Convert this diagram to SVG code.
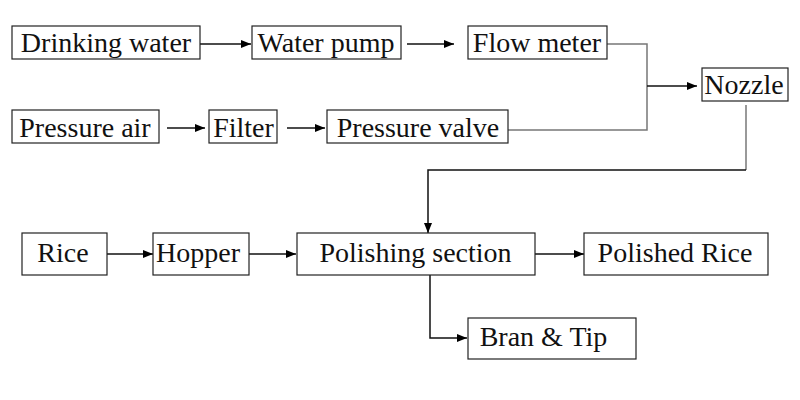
<svg xmlns="http://www.w3.org/2000/svg" width="800" height="400" viewBox="0 0 800 400">
<defs>
<marker id="ah" viewBox="0 0 10 10" refX="10" refY="5" markerWidth="10" markerHeight="10" markerUnits="userSpaceOnUse" orient="auto">
<path d="M0,1 L10,5 L0,9 Z" fill="#000"/>
</marker>
<style>
.b{fill:#fff;stroke:#222;stroke-width:1.2}
.t{font-size:28px;fill:#111;text-anchor:middle}
.c{fill:none;stroke:#111;stroke-width:1.5}
.g{fill:none;stroke:#777;stroke-width:1.5}
</style>
</defs>
<rect width="800" height="400" fill="#fff"/>
<g id="connectors">
<line class="c" x1="200" y1="44" x2="251" y2="44" marker-end="url(#ah)"/>
<line class="c" x1="407" y1="44" x2="454" y2="44" marker-end="url(#ah)"/>
<line class="c" x1="167" y1="128" x2="205" y2="128" marker-end="url(#ah)"/>
<line class="c" x1="287" y1="128" x2="325" y2="128" marker-end="url(#ah)"/>
<polyline class="g" points="607,44 647,44 647,130 508,130"/>
<line class="c" x1="647" y1="86" x2="697" y2="86" marker-end="url(#ah)"/>
<polyline class="g" points="746,105 746,170"/>
<polyline class="c" points="746,170 428,170 428,233" marker-end="url(#ah)"/>
<line class="c" x1="107" y1="254" x2="153" y2="254" marker-end="url(#ah)"/>
<line class="c" x1="249" y1="254" x2="296" y2="254" marker-end="url(#ah)"/>
<line class="c" x1="535" y1="254" x2="584" y2="254" marker-end="url(#ah)"/>
<polyline class="c" points="430,275 430,338 467,338" marker-end="url(#ah)"/>
</g>
<g id="drinking-water"><rect class="b" x="12" y="26" width="188" height="33"/><text class="t" font-family="Liberation Serif" x="106" y="52">Drinking water</text></g>
<g id="water-pump"><rect class="b" x="252" y="26" width="149" height="33"/><text class="t" font-family="Liberation Serif" x="326" y="52">Water pump</text></g>
<g id="flow-meter"><rect class="b" x="468" y="26" width="139" height="33"/><text class="t" font-family="Liberation Serif" x="537" y="52">Flow meter</text></g>
<g id="pressure-air"><rect class="b" x="12" y="110" width="147" height="33"/><text class="t" font-family="Liberation Serif" x="85" y="137">Pressure air</text></g>
<g id="filter"><rect class="b" x="209" y="110" width="68" height="33"/><text class="t" font-family="Liberation Serif" x="243.5" y="137">Filter</text></g>
<g id="pressure-valve"><rect class="b" x="327" y="110" width="181" height="33"/><text class="t" font-family="Liberation Serif" x="418" y="137">Pressure valve</text></g>
<g id="nozzle"><rect class="b" x="702" y="68" width="86" height="33"/><text class="t" font-family="Liberation Serif" x="744" y="94">Nozzle</text></g>
<g id="rice"><rect class="b" x="22" y="233" width="85" height="42"/><text class="t" font-family="Liberation Serif" x="63" y="262">Rice</text></g>
<g id="hopper"><rect class="b" x="153" y="233" width="96" height="42"/><text class="t" font-family="Liberation Serif" x="198" y="262">Hopper</text></g>
<g id="polishing-section"><rect class="b" x="297" y="233" width="238" height="42"/><text class="t" font-family="Liberation Serif" x="415.5" y="262">Polishing section</text></g>
<g id="polished-rice"><rect class="b" x="584" y="233" width="184" height="42"/><text class="t" font-family="Liberation Serif" x="675" y="262">Polished Rice</text></g>
<g id="bran-tip"><rect class="b" x="468" y="318" width="168" height="41"/><text class="t" font-family="Liberation Serif" x="543.5" y="346">Bran &amp; Tip</text></g>
</svg>
